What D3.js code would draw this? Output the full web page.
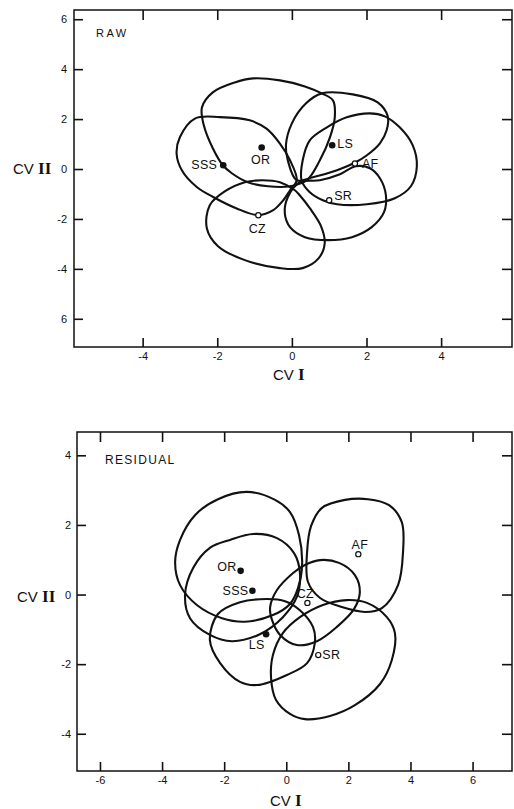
<!DOCTYPE html>
<html><head><meta charset="utf-8">
<script src="https://cdn.jsdelivr.net/npm/d3@7"></script>
<style>
html,body{margin:0;padding:0;background:#fff;}
svg{display:block;}
text{font-family:"Liberation Sans",Arial,Helvetica,sans-serif;fill:#111;}
</style></head>
<body>
<svg id="chart" width="514" height="809"></svg>
<script>
// ---------------- DATA ----------------
// RAW panel
const rawTicksX = [-4, -2, 0, 2, 4];
const rawTickLabelsX = ["-4", "-2", "0", "2", "4"];
const rawTicksY = [6, 4, 2, 0, -2, -4, -6];
const rawTickLabelsY = ["6", "4", "2", "0", "-2", "-4", "6"];
const rawGroups = ["SSS", "OR", "LS", "AF", "SR", "CZ"];
const rawMeanX = [-1.84, -0.81, 1.08, 1.69, 1.00, -0.90];
const rawMeanY = [0.15, 0.86, 0.95, 0.22, -1.25, -1.85];
const rawFilled = [true, true, true, false, false, false];
const rawOutlineOR = [[-2.41,2.47],[-2.12,3.07],[-1.53,3.47],[-1.04,3.63],[-0.32,3.55],[0.35,3.31],[0.80,3.03],[1.10,2.75],[1.15,2.07],[1.02,1.27],[0.75,0.35],[0.40,-0.45],[-0.05,-0.69],[-0.64,-0.69],[-1.18,-0.53],[-1.61,-0.17],[-1.85,0.15],[-2.12,0.83],[-2.36,1.75]];
const rawOutlineSSS = [[0.13,-0.45],[-0.05,-0.85],[-0.23,-1.25],[-0.50,-1.65],[-0.90,-1.85],[-1.48,-1.58],[-2.11,-1.12],[-2.55,-0.72],[-2.95,-0.05],[-3.09,0.62],[-3.00,1.28],[-2.60,2.02],[-1.93,2.08],[-1.13,1.95],[-0.68,1.62],[-0.32,1.02],[-0.05,0.35]];
const rawOutlineCZ = [[0.08,-0.85],[-0.32,-0.53],[-0.80,-0.45],[-1.26,-0.53],[-1.79,-0.89],[-2.20,-1.45],[-2.28,-2.37],[-1.98,-3.09],[-1.26,-3.65],[-0.32,-3.97],[0.29,-3.97],[0.72,-3.57],[0.88,-2.97],[0.78,-2.29],[0.48,-1.57],[0.21,-1.05]];
const rawOutlineSR = [[0.21,-0.53],[0.75,-0.45],[1.29,-0.21],[1.71,0.11],[2.09,0.03],[2.36,-0.37],[2.52,-1.05],[2.47,-1.73],[2.14,-2.33],[1.61,-2.73],[0.96,-2.85],[0.35,-2.73],[-0.05,-2.33],[-0.19,-1.77],[-0.11,-1.13]];
const rawOutlineLS = [[0.13,-0.45],[-0.11,0.35],[-0.16,0.95],[0.00,1.83],[0.38,2.63],[0.80,3.03],[1.63,2.99],[2.30,2.67],[2.57,2.11],[2.54,1.55],[2.36,1.03],[2.01,0.55],[1.71,0.27],[1.21,-0.05],[0.56,-0.33]];
const rawOutlineAF = [[0.26,-0.45],[0.29,0.35],[0.48,1.15],[0.94,1.67],[1.47,2.07],[2.09,2.23],[2.49,2.11],[2.89,1.67],[3.24,0.95],[3.35,0.11],[3.19,-0.69],[2.76,-1.17],[2.01,-1.41],[1.21,-1.41],[0.83,-1.25],[0.48,-0.93]];

// RESIDUAL panel
const resTicksX = [-6, -4, -2, 0, 2, 4, 6];
const resTickLabelsX = ["-6", "-4", "-2", "0", "2", "4", "6"];
const resTicksY = [4, 2, 0, -2, -4];
const resTickLabelsY = ["4", "2", "0", "-2", "-4"];
const resGroups = ["OR", "SSS", "LS", "CZ", "AF", "SR"];
const resMeanX = [-1.47, -1.09, -0.65, 0.68, 2.32, 1.03];
const resMeanY = [0.68, 0.11, -1.14, -0.24, 1.16, -1.74];
const resFilled = [true, true, true, false, false, false];
const resOutlineOR = [[-1.27,2.95],[-0.36,2.72],[0.12,2.37],[0.41,1.71],[0.51,0.85],[0.38,0.19],[0.12,-0.27],[-0.43,-0.59],[-1.33,-0.78],[-2.07,-0.68],[-2.88,-0.30],[-3.42,0.27],[-3.58,0.93],[-3.42,1.57],[-2.94,2.28],[-2.20,2.74]];
const resOutlineSSS = [[-1.07,1.74],[-1.81,1.57],[-2.46,1.34],[-3.00,0.76],[-3.26,-0.01],[-3.10,-0.68],[-2.46,-1.16],[-1.75,-1.34],[-0.85,-1.14],[-0.11,-0.65],[0.34,-0.07],[0.44,0.62],[0.25,1.19],[-0.30,1.62]];
const resOutlineLS = [[-0.62,-0.13],[-1.49,-0.22],[-2.20,-0.56],[-2.46,-1.31],[-2.13,-1.97],[-1.49,-2.51],[-0.94,-2.60],[0.02,-2.31],[0.67,-1.97],[0.92,-1.39],[0.86,-0.93],[0.44,-0.45],[-0.04,-0.19]];
const resOutlineCZ = [[-0.52,-0.36],[-0.30,0.13],[0.22,0.62],[0.60,0.85],[1.09,0.99],[1.70,0.91],[2.21,0.56],[2.37,0.07],[2.18,-0.42],[1.63,-0.93],[0.99,-1.34],[0.34,-1.45],[-0.20,-1.16],[-0.46,-0.73]];
const resOutlineAF = [[1.89,2.72],[1.15,2.49],[0.80,1.97],[0.67,1.22],[0.70,0.36],[1.09,-0.10],[1.79,-0.36],[2.54,-0.50],[3.08,-0.39],[3.60,0.27],[3.76,1.22],[3.72,2.08],[3.31,2.57],[2.63,2.74]];
const resOutlineSR = [[-0.11,-1.11],[0.44,-0.65],[1.18,-0.30],[1.95,-0.16],[2.60,-0.24],[3.24,-0.65],[3.50,-1.11],[3.40,-1.88],[3.02,-2.57],[2.21,-3.18],[1.41,-3.49],[0.60,-3.58],[0.12,-3.43],[-0.33,-3.03],[-0.49,-2.40],[-0.43,-1.74]];

// ---------------- LAYOUT / STYLE ----------------
const svg = d3.select("#chart");
const INK = "#111";

// label placement (px offsets relative to the mean point)
const rawLabelPos = {
  SSS:{anchor:"end",dx:-6,dy:4}, OR:{anchor:"middle",dx:-1,dy:16.5}, LS:{anchor:"start",dx:5,dy:3},
  AF:{anchor:"start",dx:7,dy:4}, SR:{anchor:"start",dx:5,dy:0}, CZ:{anchor:"middle",dx:-1,dy:17.5}
};
const resLabelPos = {
  OR:{anchor:"end",dx:-4,dy:0}, SSS:{anchor:"end",dx:-4,dy:4}, LS:{anchor:"middle",dx:-9.5,dy:15},
  CZ:{anchor:"middle",dx:-2,dy:-5}, AF:{anchor:"middle",dx:1.5,dy:-5.5}, SR:{anchor:"start",dx:4,dy:4}
};

function panel(cfg){
  const x = d3.scaleLinear().domain(cfg.xDomain).range([cfg.left, cfg.right]);
  const y = d3.scaleLinear().domain(cfg.yDomain).range([cfg.bottom, cfg.top]);
  const g = svg.append("g");

  // frame
  g.append("rect").attr("x",cfg.left).attr("y",cfg.top)
    .attr("width",cfg.right-cfg.left).attr("height",cfg.bottom-cfg.top)
    .attr("fill","none").attr("stroke",INK).attr("stroke-width",1.5);

  const styleAxis = sel => {
    sel.select(".domain").remove();
    sel.selectAll(".tick line").attr("stroke",INK).attr("stroke-width",1.6);
    sel.selectAll(".tick text").attr("fill",INK)
      .style("font-family",'"Liberation Sans",Arial,sans-serif').style("font-size","11px");
  };

  g.append("g").attr("transform",`translate(0,${cfg.bottom})`)
    .call(d3.axisBottom(x).tickValues(cfg.ticksX).tickFormat((d,i)=>cfg.labelsX[i])
      .tickSizeInner(-9).tickSizeOuter(0).tickPadding(5)).call(styleAxis);
  g.append("g").attr("transform",`translate(0,${cfg.top})`)
    .call(d3.axisTop(x).tickValues(cfg.ticksX).tickFormat(()=>"")
      .tickSizeInner(-10).tickSizeOuter(0)).call(styleAxis);
  g.append("g").attr("transform",`translate(${cfg.left},0)`)
    .call(d3.axisLeft(y).tickValues(cfg.ticksY).tickFormat((d,i)=>cfg.labelsY[i])
      .tickSizeInner(-9).tickSizeOuter(0).tickPadding(cfg.yPad)).call(styleAxis);
  g.append("g").attr("transform",`translate(${cfg.right},0)`)
    .call(d3.axisRight(y).tickValues(cfg.ticksY).tickFormat(()=>"")
      .tickSizeInner(-10).tickSizeOuter(0)).call(styleAxis);

  // outlines
  const line = d3.line().x(d=>x(d[0])).y(d=>y(d[1])).curve(d3.curveCatmullRomClosed.alpha(0.5));
  g.append("g").selectAll("path").data(cfg.outlines).join("path")
    .attr("d",line).attr("fill","none").attr("stroke",INK)
    .attr("stroke-width",2.1).attr("stroke-linejoin","round");

  // means
  const pts = cfg.groups.map((name,i)=>({name,x:cfg.mx[i],y:cfg.my[i],filled:cfg.filled[i]}));
  g.append("g").selectAll("circle").data(pts).join("circle")
    .attr("cx",d=>x(d.x)).attr("cy",d=>y(d.y))
    .attr("r",d=>d.filled?3.3:2.6)
    .attr("fill",d=>d.filled?INK:"#fff")
    .attr("stroke",INK).attr("stroke-width",d=>d.filled?0:1.2);

  g.append("g").selectAll("text").data(pts).join("text")
    .attr("x",d=>x(d.x)+cfg.labelPos[d.name].dx)
    .attr("y",d=>y(d.y)+cfg.labelPos[d.name].dy)
    .attr("text-anchor",d=>cfg.labelPos[d.name].anchor)
    .style("font-size","12.5px").style("letter-spacing","0.3px")
    .text(d=>d.name);

  // panel title
  g.append("text").attr("x",cfg.titleX).attr("y",cfg.titleY)
    .style("font-size",cfg.titleSize).style("letter-spacing",cfg.titleSpacing)
    .text(cfg.title);

  // axis titles
  const xt = g.append("text").attr("x",cfg.xTitleX).attr("y",cfg.xTitleY).style("font-size","15px");
  xt.append("tspan").text("CV ");
  xt.append("tspan").style("font-family",'"Liberation Serif","Times New Roman",serif')
    .style("font-weight","bold").style("font-size","17px").text("I");
  const yt = g.append("text").attr("x",cfg.yTitleX).attr("y",cfg.yTitleY).style("font-size","15px");
  yt.append("tspan").text("CV ");
  yt.append("tspan").style("font-family",'"Liberation Serif","Times New Roman",serif')
    .style("font-weight","bold").style("font-size","17px").text("II");
}

panel({
  xDomain:[-5.84,5.90], yDomain:[-7.13,6.37],
  left:74, right:512, top:10, bottom:347,
  ticksX:rawTicksX, labelsX:rawTickLabelsX, ticksY:rawTicksY, labelsY:rawTickLabelsY, yPad:7,
  outlines:[rawOutlineOR, rawOutlineSSS, rawOutlineCZ, rawOutlineSR, rawOutlineLS, rawOutlineAF],
  groups:rawGroups, mx:rawMeanX, my:rawMeanY, filled:rawFilled, labelPos:rawLabelPos,
  title:"RAW", titleX:96, titleY:37, titleSize:"11px", titleSpacing:"2.5px",
  xTitleX:273, xTitleY:380, yTitleX:13, yTitleY:174
});

panel({
  xDomain:[-6.74,7.27], yDomain:[-5.07,4.67],
  left:77, right:512, top:432, bottom:771,
  ticksX:resTicksX, labelsX:resTickLabelsX, ticksY:resTicksY, labelsY:resTickLabelsY, yPad:6,
  outlines:[resOutlineOR, resOutlineSSS, resOutlineLS, resOutlineCZ, resOutlineAF, resOutlineSR],
  groups:resGroups, mx:resMeanX, my:resMeanY, filled:resFilled, labelPos:resLabelPos,
  title:"RESIDUAL", titleX:105, titleY:463.5, titleSize:"12px", titleSpacing:"1.3px",
  xTitleX:270, xTitleY:806, yTitleX:17, yTitleY:602
});
</script>
</body></html>
